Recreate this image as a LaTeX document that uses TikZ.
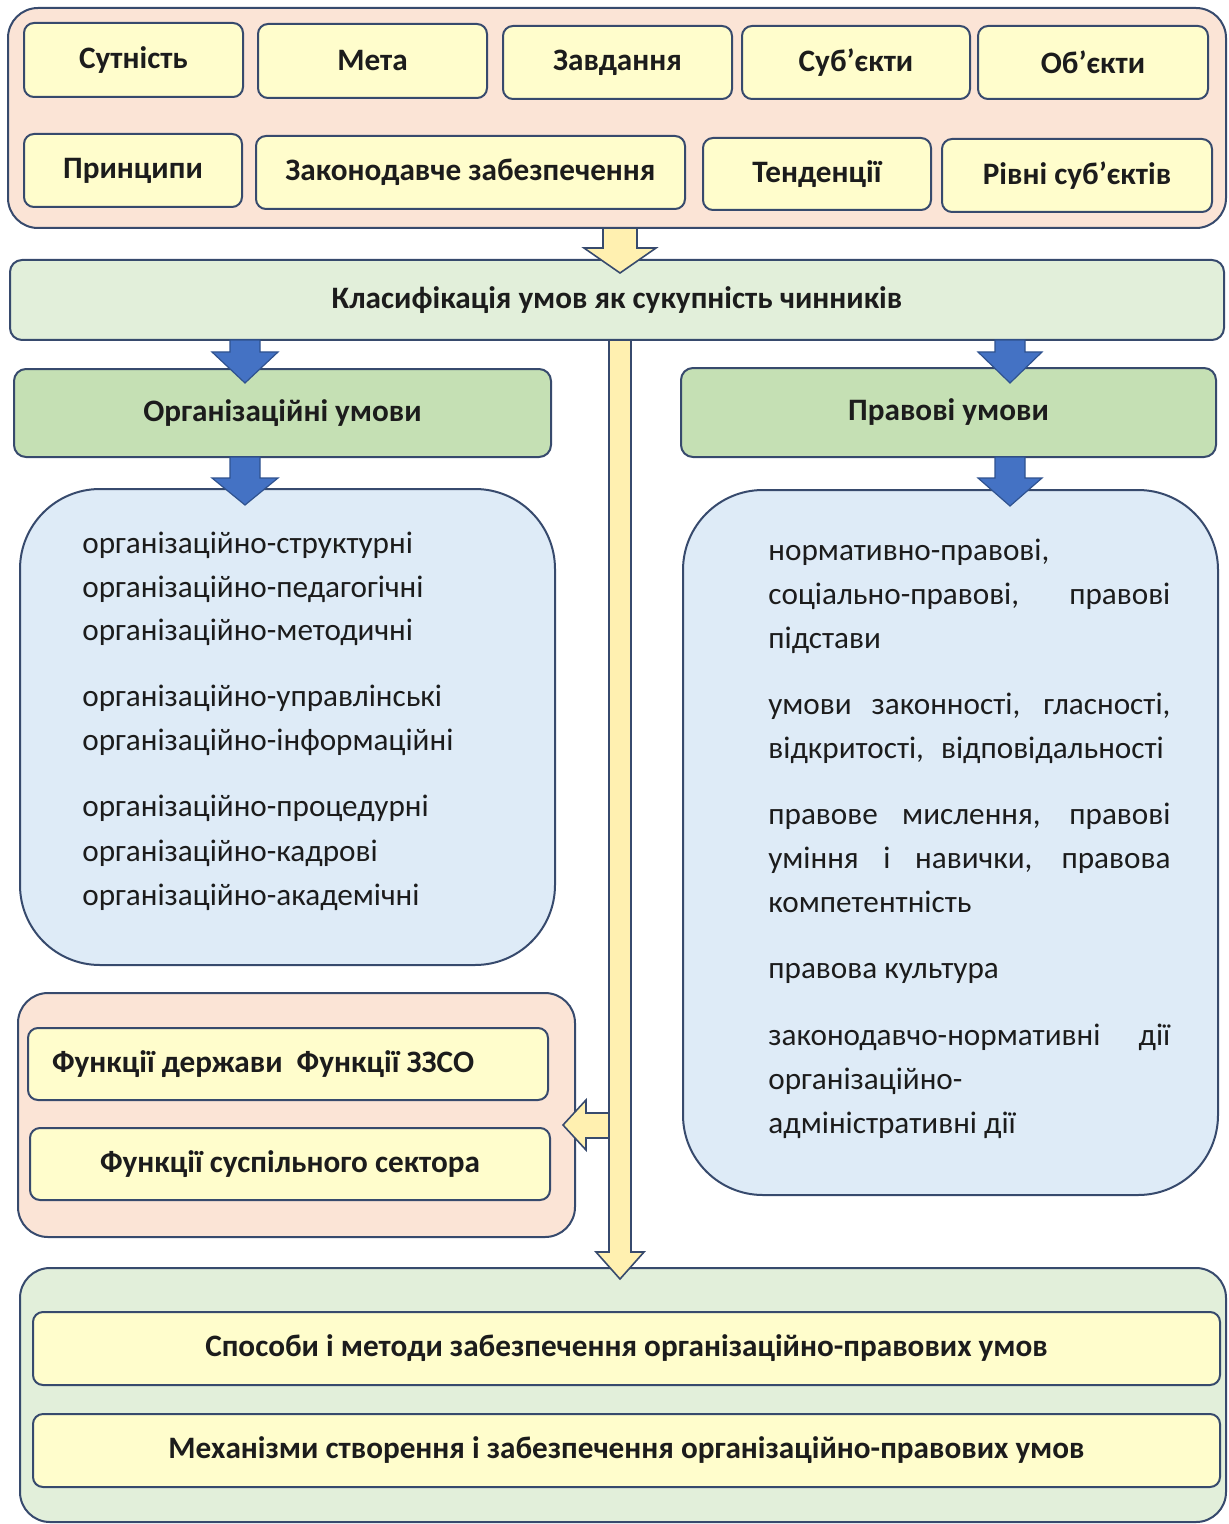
\documentclass[tikz,border=0pt]{standalone}
\usepackage{fontspec}
\setmainfont{Carlito}
\usetikzlibrary{calc}
\definecolor{bord}{HTML}{374A6D}
\definecolor{txt}{HTML}{1C1C1C}
\definecolor{pinkf}{HTML}{FBE4D6}
\definecolor{yelf}{HTML}{FFFDCC}
\definecolor{lgreen}{HTML}{E2EFDA}
\definecolor{mgreen}{HTML}{C5E0B4}
\definecolor{lblue}{HTML}{DEEBF7}
\definecolor{barrow}{HTML}{4472C4}
\definecolor{barrowb}{HTML}{2F528F}
\definecolor{yarrow}{HTML}{FFF0B0}
\newcommand\jl[1]{\makebox[201pt][s]{#1}}
\newcommand\bx[7]{\node[#1, minimum width={(#5-#3)*0.5pt}, minimum height={(#6-#4)*0.5pt}] (#2) at ({(#3+#5)/2},{(#4+#6)/2}) {#7};}
\newcommand\dnarrow[7]{%
  \draw[#7] (#1-#5,#2) -- (#1+#5,#2) -- (#1+#5,#3) -- (#1+#6,#3) -- (#1,#4) -- (#1-#6,#3) -- (#1-#5,#3) -- cycle;}
\begin{document}
\begin{tikzpicture}[x=0.5pt,y=-0.5pt,
  box/.style={draw=bord, line width=1pt, inner sep=0pt, outer sep=0pt, text=txt, font=\bfseries\fontsize{15.6}{18}\selectfont},
  ybox/.style={box, fill=yelf, rounded corners=5pt},
  container/.style={draw=bord, line width=1pt, inner sep=0pt},
  item/.style={anchor=base west, inner sep=0pt, text=txt, font=\fontsize{15.6}{18}\selectfont},
  bar/.style={fill=barrow, draw=barrowb, line width=0.6pt, line join=miter},
  yar/.style={fill=yarrow, draw=bord, line width=0.8pt, line join=miter}]
\useasboundingbox (0,0) rectangle (1229,1524);
% top container
\bx{container, fill=pinkf, rounded corners=15pt}{top}{8}{8}{1226}{228}{}
\bx{ybox}{sut}{24}{23}{243}{97}{Сутність}
\bx{ybox}{meta}{258}{24}{487}{98}{Мета}
\bx{ybox}{zav}{503}{26}{732}{99}{Завдання}
\bx{ybox}{sub}{742}{26}{970}{99}{Суб’єкти}
\bx{ybox}{obj}{978}{26}{1208}{99}{Об’єкти}
\bx{ybox}{prin}{24}{134}{242}{207}{Принципи}
\bx{ybox}{zak}{256}{136}{685}{209}{Законодавче забезпечення}
\bx{ybox}{ten}{703}{138}{931}{210}{Тенденції}
\bx{ybox}{riv}{942}{139}{1212}{212}{Рівні суб’єктів}
% classification
\bx{box, fill=lgreen, rounded corners=6pt}{cls}{10}{260}{1224}{340}{Класифікація умов як сукупність чинників}
% organizational / legal headers
\bx{box, fill=mgreen, rounded corners=6pt}{org}{14}{369}{551}{457}{Організаційні умови}
\bx{box, fill=mgreen, rounded corners=6pt}{prav}{681}{368}{1216}{457}{Правові умови}
% list boxes
\bx{container, fill=lblue, rounded corners=40pt}{orglist}{20}{489}{555}{965}{}
\bx{container, fill=lblue, rounded corners=40pt}{pravlist}{683}{490}{1218}{1195}{}
\node[item] (o1) at (82,553) {організаційно-структурні};
\node[item] (o2) at (82,597) {організаційно-педагогічні};
\node[item] (o3) at (82,640) {організаційно-методичні};
\node[item] (o4) at (82,706) {організаційно-управлінські};
\node[item] (o5) at (82,750) {організаційно-інформаційні};
\node[item] (o6) at (82,816) {організаційно-процедурні};
\node[item] (o7) at (82,861) {організаційно-кадрові};
\node[item] (o8) at (82,905) {організаційно-академічні};
\node[item] (p1) at (768,560) {нормативно-правові,};
\node[item] (p2) at (768,604) {\jl{соціально-правові, правові}};
\node[item] (p3) at (768,648) {підстави};
\node[item] (p4) at (768,714) {\jl{умови законності, гласності,}};
\node[item] (p5) at (768,758) {відкритості,\hspace{5pt} відповідальності};
\node[item] (p6) at (768,824) {\jl{правове мислення, правові}};
\node[item] (p7) at (768,868) {\jl{уміння і навички, правова}};
\node[item] (p8) at (768,912) {компетентність};
\node[item] (p9) at (768,978) {правова культура};
\node[item] (p10) at (768,1045) {\jl{законодавчо-нормативні дії}};
\node[item] (p11) at (768,1089) {організаційно-};
\node[item] (p12) at (768,1133) {адміністративні дії};
% functions container
\bx{container, fill=pinkf, rounded corners=15pt}{func}{18}{993}{575}{1237}{}
\bx{ybox}{f1}{28}{1028}{548}{1100}{}
\node[box, draw=none, anchor=west] (f1t) at (52,1064) {Функції держави\ \ Функції ЗЗСО};
\bx{ybox}{f2}{30}{1128}{550}{1200}{Функції суспільного сектора}
% bottom container
\bx{container, fill=lgreen, rounded corners=15pt}{bot}{20}{1268}{1226}{1522}{}
\bx{ybox}{b1}{33}{1312}{1220}{1385}{Способи і методи забезпечення організаційно-правових умов}
\bx{ybox}{b2}{33}{1414}{1220}{1487}{Механізми створення і забезпечення організаційно-правових умов}
% arrows
\dnarrow{620}{228}{248}{273}{17}{36}{yar}
\dnarrow{245}{340}{352}{383}{15}{33}{bar}
\dnarrow{1010}{340}{352}{383}{15}{32}{bar}
\dnarrow{245}{457}{478}{505}{15}{33}{bar}
\dnarrow{1010}{457}{478}{506}{15}{32}{bar}
% left arrow to functions
\draw[yar] (612,1113) -- (586,1113) -- (586,1100) -- (563,1125) -- (586,1150) -- (586,1138) -- (612,1138) -- cycle;
% long vertical arrow
\dnarrow{620}{340}{1252}{1279}{11}{24}{yar}
\end{tikzpicture}
\end{document}
